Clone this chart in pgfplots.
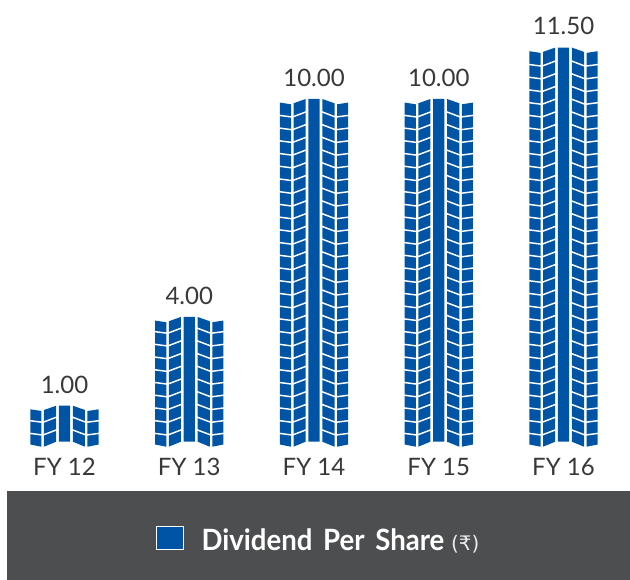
\documentclass[border=0pt]{standalone}
\usepackage{fontspec}
\setmainfont{Lato}
\newfontfamily\legfont[FakeStretch=0.94]{Lato}
\newfontfamily\rupee{DejaVu Sans}
\usepackage{pgfplots}
\pgfplotsset{compat=1.18}
\definecolor{treadblue}{HTML}{0054A6}
\definecolor{panelgrey}{HTML}{4D4E50}
\definecolor{labelgrey}{HTML}{383838}
\newcommand{\polyfill}[7]{% cat, dxa, bota, topa, dxb, botb, topb
  \pgfmathsetmacro\xa{#1+(#2)/124.75}\pgfmathsetmacro\xb{#1+(#5)/124.75}
  \pgfmathsetmacro\yaa{(#3)/34.27}\pgfmathsetmacro\yat{(#4)/34.27}
  \pgfmathsetmacro\ybb{(#6)/34.27}\pgfmathsetmacro\ybt{(#7)/34.27}
  \edef\temp{\noexpand\addplot[fill=treadblue,draw=none,forget plot] coordinates {(\xa,\yaa) (\xb,\ybb) (\xb,\ybt) (\xa,\yat) (\xa,\yaa)};}%
  \temp}
\newcommand{\grooves}[6]{% cat, lim, dxa, ya0, dxb, yb0
  \gdef\pts{}%
  \foreach \k in {0,...,40}{%
    \pgfmathsetmacro\ya{#4+\k*12.72}\pgfmathsetmacro\yb{#6+\k*12.72}
    \pgfmathparse{\ya<#2?1:0}%
    \ifnum\pgfmathresult=1\relax
      \pgfmathsetmacro\xa{#1+(#3)/124.75}\pgfmathsetmacro\xb{#1+(#5)/124.75}
      \pgfmathsetmacro\ua{\ya/34.27}\pgfmathsetmacro\ub{\yb/34.27}
      \xdef\pts{\pts (\xa,\ua) (\xb,\ub) (\xb,nan)}%
    \fi}%
  \edef\temp{\noexpand\addplot[white,line width=1.1pt,forget plot,unbounded coords=jump] coordinates {\pts};}%
  \temp}
\newcommand{\tire}[2]{% cat, value
  \pgfmathsetmacro\HH{#2*34.27}
  \pgfmathsetmacro\Hi{\HH-4.3}\pgfmathsetmacro\Ho{\HH-5.3}\pgfmathsetmacro\Hx{\HH-3.6}
  \let\HHa\HH \let\Hia\Hi \let\Hoa\Ho \let\Hxa\Hx
  \polyfill{#1}{-5.7}{0}{\HHa}{5.7}{0}{\HHa}
  \polyfill{#1}{-8.3}{0}{\HHa}{-20.5}{-5}{\Hia}
  \polyfill{#1}{8.3}{0}{\HHa}{20.5}{-5}{\Hia}
  \polyfill{#1}{-23}{-5}{\Hoa}{-34.2}{-2.8}{\Hxa}
  \polyfill{#1}{23}{-5}{\Hoa}{34.2}{-2.8}{\Hxa}
  \pgfmathsetmacro\Li{\HHa-4}\pgfmathsetmacro\Lo{\HHa-9}
  \let\Lia\Li \let\Loa\Lo
  \grooves{#1}{\Lia}{-7.5}{12}{-21.5}{6.7}
  \grooves{#1}{\Lia}{7.5}{12}{21.5}{6.7}
  \grooves{#1}{\Loa}{-22}{6.7}{-35.2}{8.4}
  \grooves{#1}{\Loa}{22}{6.7}{35.2}{8.4}
}
\begin{document}
\begin{tikzpicture}
\path[use as bounding box] (0,-99.75pt) rectangle (472.5pt,335.25pt);
\fill[panelgrey] (5.25pt,-33pt) rectangle (472.5pt,-99.75pt);
\begin{axis}[
  scale only axis, width=472.5pt, height=335.25pt,
  xmin=-0.517, xmax=4.533, ymin=-0.1547, ymax=12.889,
  axis line style={draw=none}, tick style={draw=none},
  ytick=\empty,
  xtick={0,1,2,3,4},
  xticklabels={FY~12,FY~13,FY~14,FY~15,FY~16},
  xticklabel style={font=\fontsize{18}{20}\selectfont,text=labelgrey,
    text height=13pt,text depth=0pt,yshift=-5.2pt},
  legend style={at={(0.2466,-0.2097)},anchor=west,draw=none,fill=none,text=white,
    font=\legfont\bfseries\fontsize{22}{26}\selectfont,
    inner sep=0pt,legend cell align=left},
]
\addlegendimage{legend image code/.code={\draw[white,fill=treadblue,line width=0.7pt] (0pt,-6.25pt) rectangle (20.5pt,10.75pt);},}
\addlegendentry{\hspace{11.25pt}Dividend~\hspace{3pt}Per~\hspace{3pt}Share {\mdseries\rupee\color{white!92!black}\fontsize{15}{17}\selectfont(₹)}}
\tire{0}{1.05}
\tire{1}{3.64}
\tire{2}{10.00}
\tire{3}{10.00}
\tire{4}{11.50}
\addplot[draw=none,forget plot,mark=none,nodes near coords,point meta=explicit symbolic,
  every node near coord/.style={font=\fontsize{18}{20}\selectfont,text=labelgrey,anchor=south,yshift=5.8pt}]
  coordinates {(0,1.05)[1.00] (1,3.64)[4.00] (2,10)[10.00] (3,10)[10.00] (4,11.5)[11.50]};
\end{axis}
\end{tikzpicture}
\end{document}
